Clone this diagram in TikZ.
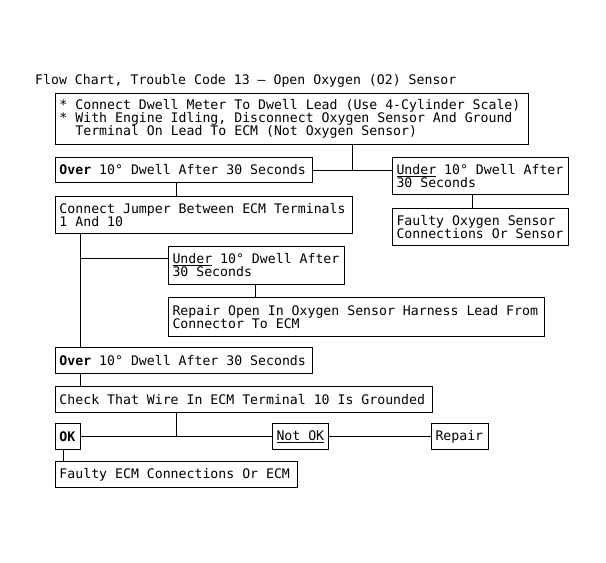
\documentclass[tikz,border=0pt]{standalone}
\usepackage{fontspec}
\setmonofont{DejaVu Sans Mono}
\usepackage{tikz}
\pgfdeclarelayer{lineas_layer}
\pgfdeclarelayer{esquema}
\pgfsetlayers{lineas_layer,esquema,main}
\newcommand{\espaciosmono}{\spaceskip=0pt\relax\xspaceskip=0pt\relax}
\tikzstyle{none}=[inner sep=0pt]
\tikzstyle{titulo}=[inner sep=0pt,anchor=base west,font=\ttfamily\fontsize{13.2}{13}\selectfont]
\tikzstyle{caja}=[draw=black,fill=white,line width=1pt,anchor=north west,align=left,inner xsep=4pt,inner ysep=0pt,font=\ttfamily\fontsize{13.2}{13}\selectfont,execute at begin node=\espaciosmono]
\tikzstyle{line}=[draw=black,line width=1pt]

\begin{document}
\begin{tikzpicture}[x=1pt,y=-1pt]
		\useasboundingbox (0,0) rectangle (606,563);
		\begin{pgfonlayer}{esquema}
			\node [style=titulo] (titulo) at (35,84) {Flow Chart, Trouble Code 13 – Open Oxygen (O2) Sensor};
			\node [style=caja,text width=465pt,minimum height=51pt] (pasos) at (55,93) {* Connect Dwell Meter To Dwell Lead (Use 4-Cylinder Scale)\\{}* With Engine Idling, Disconnect Oxygen Sensor And Ground\\\phantom{*}~Terminal On Lead To ECM (Not Oxygen Sensor)};
			\node [style=caja,text width=249pt,minimum height=25pt] (sobre1) at (55,157) {\textbf{Over} 10° Dwell After 30 Seconds};
			\node [style=caja,text width=168pt,minimum height=37pt] (bajo1) at (392,157) {\underline{Under} 10° Dwell After\\30 Seconds};
			\node [style=caja,text width=168pt,minimum height=37pt] (sensor) at (392,208) {Faulty Oxygen Sensor\\Connections Or Sensor};
			\node [style=caja,text width=289pt,minimum height=37pt] (puente) at (55,196) {Connect Jumper Between ECM Terminals\\1 And 10};
			\node [style=caja,text width=168pt,minimum height=38pt] (bajo2) at (168,246) {\underline{Under} 10° Dwell After\\30 Seconds};
			\node [style=caja,text width=368pt,minimum height=39pt] (reparar1) at (168,297) {Repair Open In Oxygen Sensor Harness Lead From\\Connector To ECM};
			\node [style=caja,text width=249pt,minimum height=26pt] (sobre2) at (55,347) {\textbf{Over} 10° Dwell After 30 Seconds};
			\node [style=caja,text width=369pt,minimum height=26pt] (tierra) at (55,386) {Check That Wire In ECM Terminal 10 Is Grounded};
			\node [style=caja,text width=17pt,minimum height=26pt] (ok) at (55,423) {\textbf{OK}};
			\node [style=caja,text width=48pt,minimum height=26pt] (notok) at (272,423) {\underline{Not OK}};
			\node [style=caja,text width=49pt,minimum height=26pt] (reparar2) at (431,423) {Repair};
			\node [style=caja,text width=234pt,minimum height=26pt] (ecm) at (55,461) {Faulty ECM Connections Or ECM};
		\end{pgfonlayer}
		\begin{pgfonlayer}{lineas_layer}
			\coordinate (j1) at (352,169.5);
			\coordinate (j2) at (472,0);
			\coordinate (j3) at (176,0);
			\coordinate (j4) at (80,258);
			\coordinate (j5) at (255,0);
			\coordinate (j7) at (176,436);
			\coordinate (j8) at (63,0);
			\path [style=line] (pasos.south -| j1) -- (j1);
			\path [style=line] (sobre1.east) -- (sobre1.east -| bajo1.west);
			\path [style=line] (bajo1.south -| j2) -- (sensor.north -| j2);
			\path [style=line] (sobre1.south -| j3) -- (puente.north -| j3);
			\path [style=line] (puente.south -| j4) -- (sobre2.north -| j4);
			\path [style=line] (j4) -- (j4 -| bajo2.west);
			\path [style=line] (bajo2.south -| j5) -- (reparar1.north -| j5);
			\path [style=line] (sobre2.south -| j4) -- (tierra.north -| j4);
			\path [style=line] (tierra.south -| j7) -- (j7);
			\path [style=line] (ok.east) -- (notok.west);
			\path [style=line] (notok.east) -- (reparar2.west);
			\path [style=line] (ok.south -| j8) -- (ecm.north -| j8);
		\end{pgfonlayer}
\end{tikzpicture}
\end{document}
